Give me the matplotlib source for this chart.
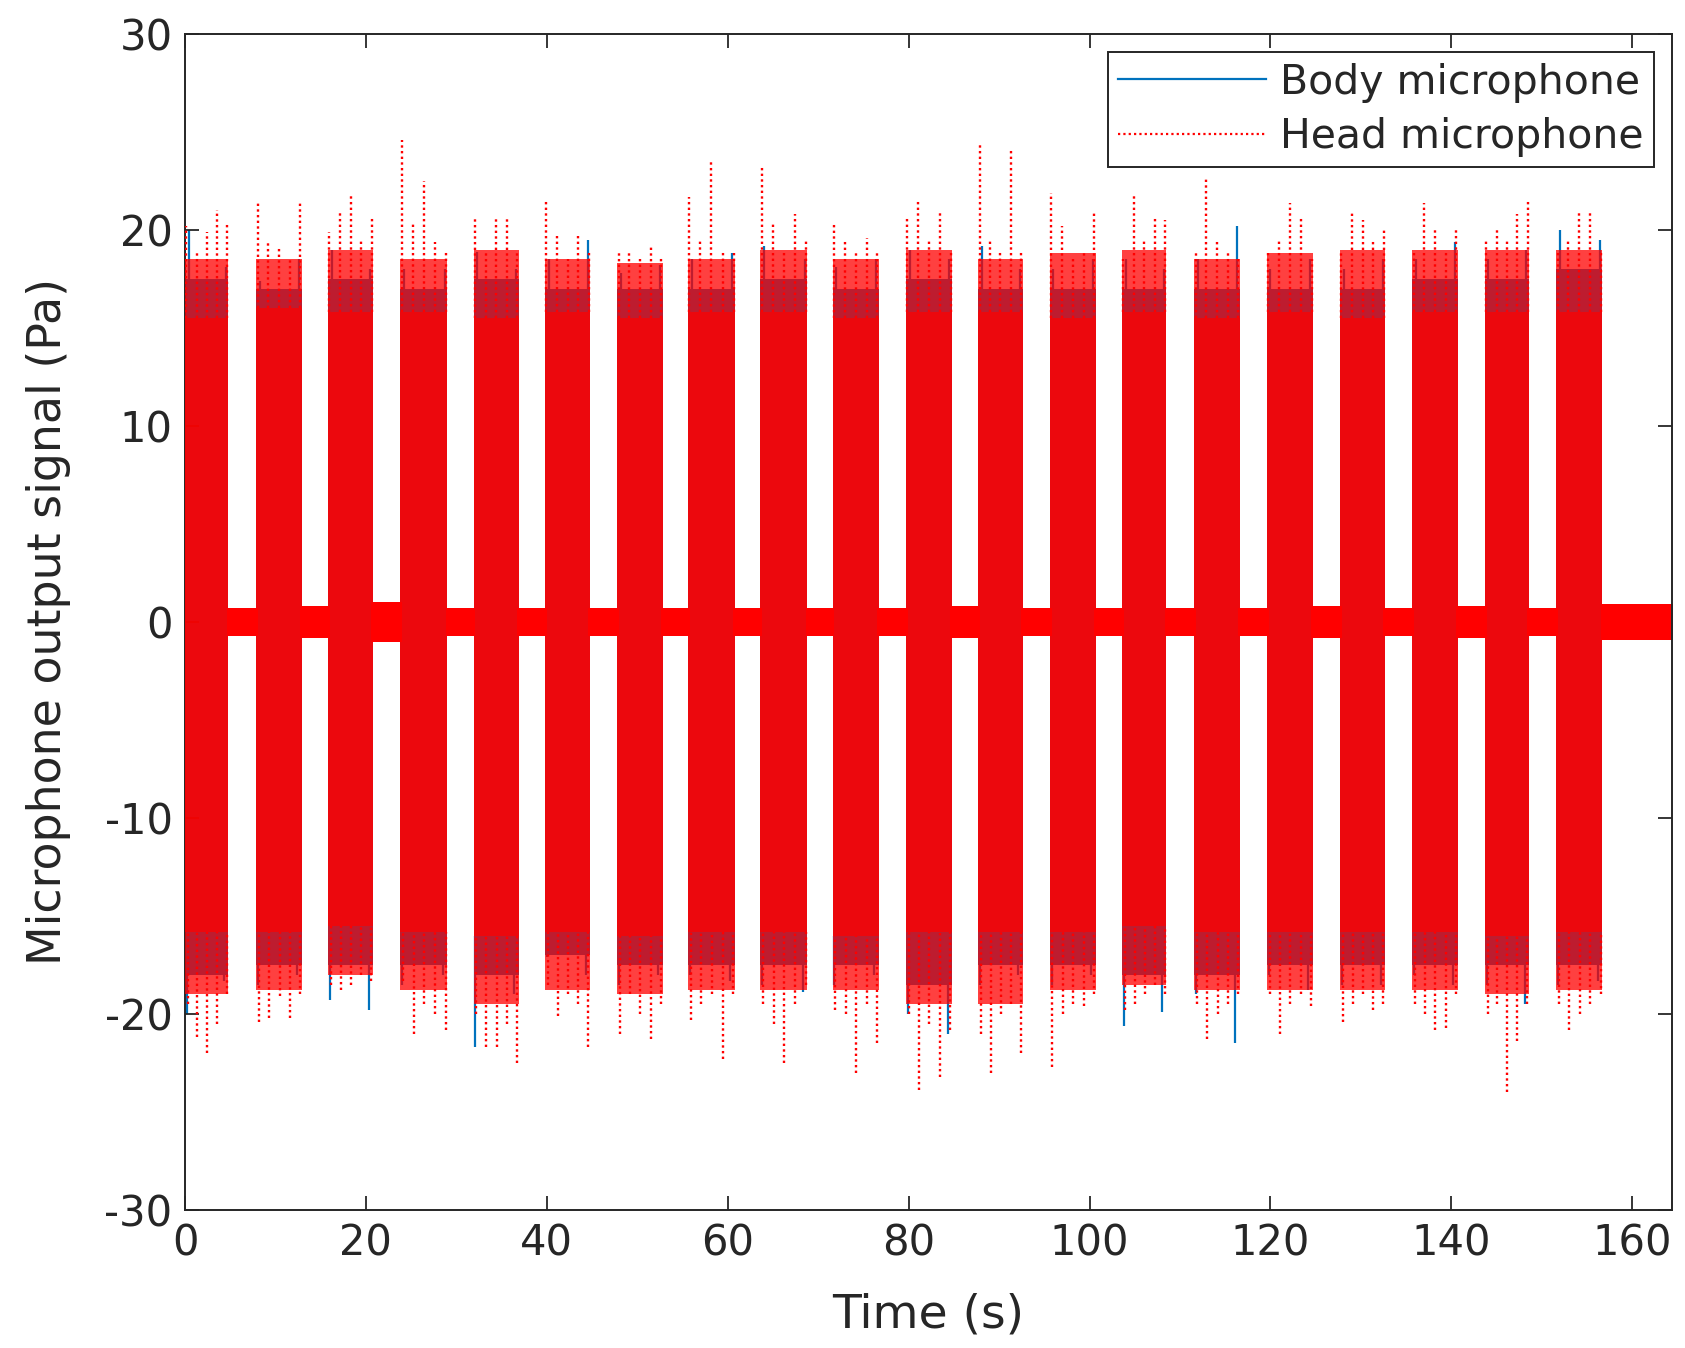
import numpy as np
import matplotlib
matplotlib.use("Agg")
import matplotlib.pyplot as plt
from matplotlib.lines import Line2D

# ---------------- data ----------------
burst_start = [0.0, 7.9, 15.8, 23.8, 31.9, 39.8, 47.8, 55.6, 63.6, 71.6,
               79.7, 87.7, 95.6, 103.6, 111.6, 119.6, 127.7, 135.7, 143.7, 151.6]
burst_end = [4.8, 12.9, 20.8, 29.0, 36.9, 44.8, 52.8, 60.8, 68.8, 76.7,
             84.8, 92.6, 100.7, 108.5, 116.6, 124.7, 132.7, 140.7, 148.6, 156.7]
record_end = 164.4

# half-width of the background noise band after each burst
gap_amp = [0.7, 0.8, 1.0, 0.7, 0.7, 0.7, 0.7, 0.7, 0.7, 0.7,
           0.8, 0.7, 0.7, 0.7, 0.7, 0.8, 0.7, 0.8, 0.7, 0.9]

# solid core of every burst (Pa)
core_top = [15.5, 16.0, 15.8, 15.8, 15.5, 15.8, 15.5, 15.8, 15.8, 15.5,
            15.8, 15.8, 15.5, 15.8, 15.5, 15.8, 15.5, 15.8, 15.8, 15.8]
core_bot = [-15.8, -15.8, -15.5, -15.8, -16.0, -15.8, -16.0, -15.8, -15.8, -16.0,
            -15.8, -15.8, -15.8, -15.5, -15.8, -15.8, -15.8, -15.8, -16.0, -15.8]
# level reached by most head oscillations (dotted fringe)
fringe_top = [18.5, 18.5, 19.0, 18.5, 19.0, 18.5, 18.3, 18.5, 19.0, 18.5,
              19.0, 18.5, 18.8, 19.0, 18.5, 18.8, 19.0, 19.0, 19.0, 19.0]
fringe_bot = [-19.0, -18.8, -18.0, -18.8, -19.5, -18.8, -19.0, -18.8, -18.8, -18.8,
              -19.5, -19.5, -18.8, -18.5, -18.8, -18.8, -18.8, -18.8, -19.0, -18.8]
# level reached by most body oscillations
body_fringe_top = [17.5, 17.0, 17.5, 17.0, 17.5, 17.0, 17.0, 17.0, 17.5, 17.0,
                   17.5, 17.0, 17.0, 17.0, 17.0, 17.0, 17.0, 17.5, 17.5, 18.0]
body_fringe_bot = [-18.0, -17.5, -17.5, -17.5, -18.0, -17.0, -17.5, -17.5, -17.5, -17.5,
                   -18.5, -17.5, -17.5, -18.0, -18.0, -17.5, -17.5, -17.5, -17.5, -17.5]

# largest head-microphone peaks inside each burst
head_peak_top = [
    [20.2, 19.0, 19.9, 21.0, 20.3], [21.4, 19.5, 19.1, 18.5, 21.5],
    [19.9, 20.9, 21.8, 19.5, 20.7], [24.6, 20.3, 22.5, 19.4, 19.0],
    [20.7, 19.0, 20.7, 20.7, 19.0], [21.6, 19.7, 18.5, 19.7, 19.0],
    [19.0, 18.8, 18.5, 19.2, 18.6], [21.7, 19.5, 23.5, 19.0, 18.8],
    [23.3, 20.3, 19.0, 20.8, 19.5], [20.4, 19.5, 19.0, 19.6, 19.0],
    [20.7, 21.5, 19.5, 20.9, 19.0], [24.4, 19.5, 19.0, 24.2, 19.0],
    [21.9, 20.2, 18.5, 19.0, 20.9], [18.5, 21.9, 19.5, 20.7, 20.5],
    [19.0, 22.7, 19.5, 19.0, 18.5], [18.8, 19.5, 21.4, 20.6, 18.5],
    [19.0, 20.9, 20.5, 19.5, 20.0], [19.0, 21.4, 20.0, 19.0, 20.1],
    [19.5, 20.0, 19.5, 20.8, 21.6], [19.0, 19.5, 20.9, 21.0, 19.0]]
head_peak_bot = [
    [-19.5, -21.2, -22.0, -20.5, -19.0], [-20.4, -20.2, -19.1, -20.2, -19.0],
    [-18.5, -18.8, -18.5, -18.0, -18.3], [-18.3, -21.0, -19.5, -20.0, -20.8],
    [-20.0, -21.7, -21.7, -20.5, -22.5], [-18.5, -20.1, -19.0, -19.5, -21.7],
    [-21.0, -19.0, -20.0, -21.3, -19.5], [-20.3, -19.5, -19.0, -22.3, -19.0],
    [-19.5, -20.5, -22.5, -19.5, -18.5], [-19.8, -20.0, -23.0, -19.5, -21.5],
    [-20.0, -23.9, -20.5, -23.2, -20.8], [-21.0, -23.0, -20.0, -19.5, -22.0],
    [-22.7, -20.0, -19.5, -19.6, -19.0], [-19.8, -19.5, -19.0, -18.5, -19.0],
    [-19.5, -21.3, -20.0, -19.5, -19.0], [-19.0, -21.0, -19.5, -19.0, -19.6],
    [-20.4, -19.5, -19.0, -19.8, -19.5], [-19.5, -20.0, -20.8, -20.7, -19.0],
    [-20.0, -19.5, -24.0, -21.4, -19.5], [-19.5, -20.8, -20.0, -19.5, -19.0]]

# largest body-microphone peaks inside each burst
body_peak_top = [
    [20.0, 18.1], [17.4, 18.5], [19.0, 18.0], [18.0, 18.0], [18.9, 18.0],
    [18.5, 19.5], [17.8, 18.2], [18.5, 18.8], [19.2, 18.5], [18.1, 18.5],
    [19.0, 18.5], [19.2, 18.0], [18.0, 18.5], [18.5, 18.0], [18.5, 20.2],
    [18.0, 18.5], [18.0, 18.5], [18.5, 19.4], [18.5, 19.0], [20.0, 19.5]]
body_peak_bot = [
    [-20.0, -18.3], [-18.5, -18.0], [-19.3, -19.8], [-18.5, -18.0], [-21.7, -19.0],
    [-17.1, -18.0], [-18.5, -18.0], [-18.0, -18.3], [-18.5, -18.9], [-18.5, -18.0],
    [-20.0, -21.0], [-18.5, -18.0], [-18.5, -18.0], [-20.6, -19.9], [-19.0, -21.5],
    [-18.0, -18.8], [-18.5, -18.5], [-18.0, -18.5], [-18.5, -19.5], [-18.5, -18.3]]

x_ticks = [0, 20, 40, 60, 80, 100, 120, 140, 160]
y_ticks = [-30, -20, -10, 0, 10, 20, 30]

# ---------------- styling ----------------
BODY = (0.0, 0.447, 0.741)
HEAD = (1.0, 0.0, 0.0)
TXT = (0.15, 0.15, 0.15)
plt.rcParams["font.family"] = ["DejaVu Sans"]
plt.rcParams["axes.unicode_minus"] = False

fig = plt.figure(figsize=(16.85, 13.48), dpi=100)
ax = fig.add_axes([0.1098, 0.1024, 0.9923 - 0.1098, 0.9748 - 0.1024])

# background noise between bursts
for i, e in enumerate(burst_end):
    nxt = burst_start[i + 1] if i + 1 < len(burst_start) else record_end
    ax.fill_between([e - 0.2, nxt + 0.2], [-gap_amp[i]] * 2, [gap_amp[i]] * 2,
                    color=HEAD, lw=0, zorder=2)

head_dots = (0, (1.0, 1.4))
for i, (s, e) in enumerate(zip(burst_start, burst_end)):
    # body microphone: solid core, fringe and peaks
    ax.fill_between([s, e], [body_fringe_bot[i]] * 2, [body_fringe_top[i]] * 2,
                    color=BODY, lw=0, zorder=1)
    bx = np.linspace(s + 0.4, e - 0.3, len(body_peak_top[i]))
    ax.vlines(bx, core_top[i], body_peak_top[i], color=BODY, lw=1.6, zorder=1)
    bx = np.linspace(s + 0.2, e - 0.5, len(body_peak_bot[i]))
    ax.vlines(bx, body_peak_bot[i], core_bot[i], color=BODY, lw=1.6, zorder=1)
    # head microphone: core, dotted fringe and peaks
    ax.fill_between([s, e], [core_bot[i]] * 2, [core_top[i]] * 2,
                    color=HEAD, alpha=0.93, lw=0, zorder=3)
    ax.fill_between([s, e], [core_top[i]] * 2, [fringe_top[i]] * 2,
                    color=HEAD, alpha=0.75, lw=0, zorder=3)
    ax.fill_between([s, e], [fringe_bot[i]] * 2, [core_bot[i]] * 2,
                    color=HEAD, alpha=0.75, lw=0, zorder=3)
    hx = np.linspace(s + 0.15, e - 0.15, len(head_peak_top[i]))
    ax.vlines(hx, core_top[i], head_peak_top[i], color=HEAD, lw=1.7,
              linestyles=[head_dots], zorder=4)
    hx = np.linspace(s + 0.3, e - 0.2, len(head_peak_bot[i]))
    ax.vlines(hx, head_peak_bot[i], core_bot[i], color=HEAD, lw=1.7,
              linestyles=[head_dots], zorder=4)

ax.set_xlim(0, record_end)
ax.set_ylim(-30, 30)
ax.set_xticks(x_ticks)
ax.set_yticks(y_ticks)
ax.tick_params(direction="in", length=10, width=1.3, colors=TXT,
               labelsize=30, top=True, right=True, pad=9)
for sp in ax.spines.values():
    sp.set_color(TXT)
    sp.set_linewidth(1.4)
ax.set_xlabel("Time (s)", fontsize=34, color=TXT, labelpad=20)
ax.set_ylabel("Microphone output signal (Pa)", fontsize=33, color=TXT, labelpad=24)

handles = [Line2D([], [], color=BODY, lw=1.6),
           Line2D([], [], color=HEAD, lw=1.6, linestyle=head_dots)]
leg = ax.legend(handles, ["Body microphone", "Head microphone"], loc="upper right",
                fontsize=29.5, frameon=True, fancybox=False, framealpha=1,
                edgecolor=TXT, handlelength=3.6, handletextpad=0.35,
                borderaxespad=0.45, borderpad=0.25, labelspacing=0.35)
leg.get_frame().set_linewidth(1.4)
for t in leg.get_texts():
    t.set_color(TXT)

fig.savefig("out.png", dpi=100, facecolor="white")
